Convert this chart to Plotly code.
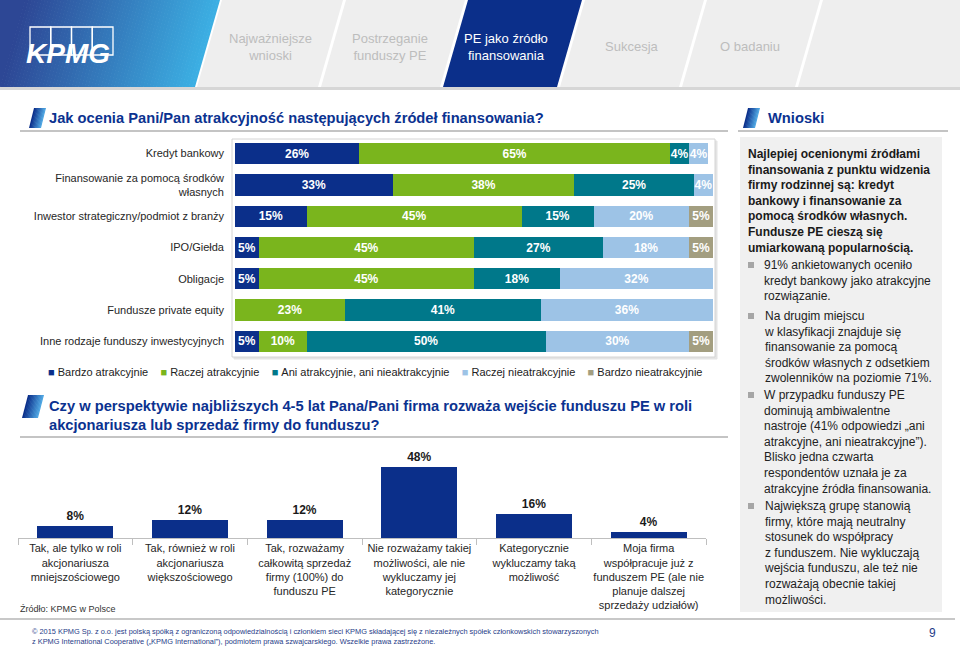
import plotly.graph_objects as go

W, H = 960, 648
FONT = "Liberation Sans, Arial, sans-serif"

# ---------------- data ----------------
sources = [
    "Kredyt bankowy",
    "Finansowanie za pomocą środków<br>własnych",
    "Inwestor strategiczny/podmiot z branży",
    "IPO/Giełda",
    "Obligacje",
    "Fundusze private equity",
    "Inne rodzaje funduszy inwestycyjnych",
]
series_names = [
    "Bardzo atrakcyjnie",
    "Raczej atrakcyjnie",
    "Ani atrakcyjnie, ani nieaktrakcyjnie",
    "Raczej nieatrakcyjnie",
    "Bardzo nieatrakcyjnie",
]
bardzo_atrakcyjnie = [26, 33, 15, 5, 5, None, 5]
raczej_atrakcyjnie = [65, 38, 45, 45, 45, 23, 10]
ani_ani = [4, 25, 15, 27, 18, 41, 50]
raczej_nieatrakcyjnie = [4, 4, 20, 18, 32, 36, 30]
bardzo_nieatrakcyjnie = [None, None, 5, 5, None, None, 5]

options = [
    "Tak, ale tylko w roli<br>akcjonariusza<br>mniejszościowego",
    "Tak, również w roli<br>akcjonariusza<br>większościowego",
    "Tak, rozważamy<br>całkowitą sprzedaż<br>firmy (100%) do<br>funduszu PE",
    "Nie rozważamy takiej<br>możliwości, ale nie<br>wykluczamy jej<br>kategorycznie",
    "Kategorycznie<br>wykluczamy taką<br>możliwość",
    "Moja firma<br>współpracuje już z<br>funduszem PE (ale nie<br>planuje dalszej<br>sprzedaży udziałów)",
]
option_values = [8, 12, 12, 48, 16, 4]

tabs = ["Najważniejsze<br>wnioski", "Postrzeganie<br>funduszy PE", "PE jako źródło<br>finansowania", "Sukcesja", "O badaniu"]

# ---------------- styles ----------------
NAVY = "#0B2F8A"
series_colors = ["#0B2F8A", "#7AB51D", "#00788A", "#9DC3E6", "#A39E80"]
TITLE_BLUE = "#0B3290"


def P(x):
    return min(max(x, 0), W) / W


def Q(y):
    return 1 - min(max(y, 0), H) / H


shapes = []
annotations = []


def poly(points, color, layer="below"):
    path = "M " + " L ".join(f"{P(x):.5f},{Q(y):.5f}" for x, y in points) + " Z"
    shapes.append(dict(type="path", xref="paper", yref="paper", path=path,
                       fillcolor=color, line=dict(width=0), layer=layer))


def rect(x0, y0, x1, y1, fill=None, line=None, lw=1, layer="below"):
    d = dict(type="rect", xref="paper", yref="paper", x0=P(x0), x1=P(x1), y0=Q(y1), y1=Q(y0), layer=layer)
    d["fillcolor"] = fill if fill else "rgba(0,0,0,0)"
    d["line"] = dict(color=line, width=lw) if line else dict(width=0)
    shapes.append(d)


def hline(x0, x1, y, color, lw=1, layer="below"):
    shapes.append(dict(type="line", xref="paper", yref="paper", x0=P(x0), x1=P(x1), y0=Q(y), y1=Q(y),
                       line=dict(color=color, width=lw), layer=layer))


def hexrgb(h):
    h = h.lstrip("#")
    return tuple(int(h[i:i + 2], 16) for i in (0, 2, 4))


def mix(c0, c1, t):
    r0, r1 = hexrgb(c0), hexrgb(c1)
    return "rgb(%d,%d,%d)" % tuple(round(r0[k] + (r1[k] - r0[k]) * t) for k in range(3))


def gradient_para(xa, xb, y0, y1, slant, c0, c1, n=40, layer="below"):
    # parallelogram: top edge xa..xb, bottom edge shifted left by slant
    for i in range(n):
        t = i / (n - 1)
        a = xa + (xb - xa) * i / n
        b = xa + (xb - xa) * (i + 1) / n + (0.6 if i < n - 1 else 0)
        poly([(a, y0), (b, y0), (b - slant, y1), (a - slant, y1)], mix(c0, c1, t), layer)


def text(x, y, s, size=12, color="#222222", xanchor="left", yanchor="middle", align="left", bold=False, family=FONT):
    annotations.append(dict(xref="paper", yref="paper", x=P(x), y=Q(y), text=s, showarrow=False,
                            xanchor=xanchor, yanchor=yanchor, align=align,
                            font=dict(size=size, color=color, family=family,
                                      weight="bold" if bold else "normal")))


# ---------------- header ----------------
tab_tops = [(222, 343), (346, 465), (468, 582), (585, 704), (707, 820)]
for i, (a, b) in enumerate(tab_tops):
    col = NAVY if i == 2 else "#EEEEEE"
    poly([(a, 0), (b, 0), (b - 25, 87), (a - 25, 87)], col)
poly([(823, 0), (960, 0), (960, 87), (798, 87)], "#EEEEEE")
rect(0, 87, 960, 90, fill="#D6D6D6")
# logo gradient block (left part + slanted stripes)
poly([(0, 0), (25.6, 0), (0.6, 87), (0, 87)], "#2D4795")
gradient_para(25, 220, 0, 87, 25, "#2D4795", "#3CAFE3", n=60)
# KPMG logo
for i in range(4):
    rect(30 + i * 20.75, 27, 30 + (i + 1) * 20.75, 55, line="white", lw=1.3, layer="above")
text(68, 53, "<i>KPMG</i>", size=28, color="white", xanchor="center", bold=True)
tab_centers = [270, 390, 506, 632, 750]
for i, (lbl, cx) in enumerate(zip(tabs, tab_centers)):
    text(cx, 47, lbl, size=13, color="white" if i == 2 else "#BDBDBD", xanchor="center", align="center")

# ---------------- section titles ----------------
gradient_para(34, 46, 108, 128, 5, "#0B2F8A", "#4FA6E2", n=10)
text(47, 118, "Jak ocenia Pani/Pan atrakcyjność następujących źródeł finansowania?", size=14.7,
     color=TITLE_BLUE, bold=True)
hline(20, 728, 131, "#C4C4C4", 2)

gradient_para(748, 760, 108, 128, 5, "#0B2F8A", "#4FA6E2", n=10)
text(766, 118, "Wnioski", size=14.7, color=TITLE_BLUE, bold=True)
hline(738, 948, 131, "#C4C4C4", 2)

gradient_para(28, 44, 395, 418, 6, "#0B2F8A", "#4FA6E2", n=12)
text(47, 415, "Czy w perspektywie najbliższych 4-5 lat Pana/Pani firma rozważa wejście funduszu PE w roli<br>"
              "akcjonariusza lub sprzedaż firmy do funduszu?", size=14.7, color=TITLE_BLUE, bold=True)
hline(20, 728, 437, "#C4C4C4", 2)

# chart frame (top chart)
rect(234, 141, 717, 359, fill="#E4E4E4", line="#E4E4E4", lw=1)
rect(232, 139, 715, 357, fill="white", line="#D4D4D4", lw=1)

# legend (built from series names / colours)
legend_html = "\u00a0\u00a0\u00a0\u00a0".join(
    f"<span style='color:{c}'>■</span>\u00a0{n}" for n, c in zip(series_names, series_colors))
text(46, 372, legend_html, size=11, color="#222222")

# ---------------- right panel ----------------
rect(740, 137, 942, 612, fill="#F0F0F0")
text(746, 145, "Najlepiej ocenionymi źródłami<br>finansowania z punktu widzenia<br>firmy rodzinnej są: kredyt<br>"
               "bankowy i finansowanie za<br>pomocą środków własnych.<br>Fundusze PE cieszą się<br>"
               "umiarkowaną popularnością.", size=12, color="#1A1A1A", yanchor="top", bold=True)
bullets = [
    (265, "91% ankietowanych oceniło<br>kredyt bankowy jako atrakcyjne<br>rozwiązanie."),
    (316, "Na drugim miejscu<br>w klasyfikacji znajduje się<br>finansowanie za pomocą<br>"
          "środków własnych z odsetkiem<br>zwolenników na poziomie 71%."),
    (395, "W przypadku funduszy PE<br>dominują ambiwalentne<br>nastroje (41% odpowiedzi „ani<br>"
          "atrakcyjne, ani nieatrakcyjne”).<br>Blisko jedna czwarta<br>respondentów uznała je za<br>"
          "atrakcyjne źródła finansowania."),
    (506, "Największą grupę stanowią<br>firmy, które mają neutralny<br>stosunek do współpracy<br>"
          "z funduszem. Nie wykluczają<br>wejścia funduszu, ale też nie<br>rozważają obecnie takiej<br>możliwości."),
]
for y0, s in bullets:
    rect(748, y0 - 3, 754, y0 + 3, fill="#A6A6A6")
    text(762, y0 - 9, s, size=12, color="#222222", yanchor="top")

# ---------------- footer ----------------
text(18, 609, "Źródło: KPMG w Polsce", size=9, color="#333333")
hline(0, 955, 619, "#C8C8C8", 2)
text(30, 636, "© 2015 KPMG Sp. z o.o. jest polską spółką z ograniczoną odpowiedzialnością i członkiem sieci KPMG "
              "składającej się z niezależnych spółek członkowskich stowarzyszonych<br>z KPMG International Cooperative "
              "(„KPMG International”), podmiotem prawa szwajcarskiego. Wszelkie prawa zastrzeżone.",
     size=7.4, color="#1F3C88")
text(932, 633, "9", size=12, color="#1F3C88", xanchor="center")

# ---------------- traces ----------------
fig = go.Figure()
for name, vals, col in zip(series_names,
                           [bardzo_atrakcyjnie, raczej_atrakcyjnie, ani_ani, raczej_nieatrakcyjnie, bardzo_nieatrakcyjnie],
                           series_colors):
    fig.add_trace(go.Bar(
        y=sources, x=vals, orientation="h", name=name, marker=dict(color=col, line=dict(width=0)),
        width=0.68, texttemplate="%{x}%", textposition="inside", insidetextanchor="middle", textangle=0,
        textfont=dict(color="white", size=12, family=FONT, weight="bold"), constraintext="none",
        showlegend=False, hoverinfo="skip", xaxis="x", yaxis="y"))

fig.add_trace(go.Bar(
    x=options, y=option_values, marker=dict(color=NAVY, line=dict(width=0)), width=0.66,
    texttemplate="%{y}%", textposition="outside", cliponaxis=False, textangle=0,
    textfont=dict(color="#1A1A1A", size=12, family=FONT, weight="bold"),
    showlegend=False, hoverinfo="skip", xaxis="x2", yaxis="y2"))

fig.update_layout(
    width=W, height=H, margin=dict(l=0, r=0, t=0, b=0),
    paper_bgcolor="white", plot_bgcolor="rgba(0,0,0,0)",
    barmode="stack", showlegend=False,
    font=dict(family=FONT, color="#222222"),
    xaxis=dict(domain=[P(235), P(713)], range=[0, 100], visible=False, fixedrange=True, anchor="y"),
    yaxis=dict(domain=[Q(357), Q(138)], autorange="reversed", type="category", anchor="x",
               tickfont=dict(size=11, color="#262626"), ticks="", ticklabelstandoff=10,
               showline=False, showgrid=False, zeroline=False),
    xaxis2=dict(domain=[P(18), P(706)], anchor="y2", type="category", tickangle=0,
                tickfont=dict(size=11, color="#262626"), showline=True, linecolor="#BFBFBF", linewidth=1,
                ticks="outside", tickson="boundaries", ticklen=6, tickcolor="#BFBFBF", showgrid=False),
    yaxis2=dict(domain=[Q(538), Q(440)], range=[0, 66.2], visible=False, anchor="x2"),
    shapes=shapes, annotations=annotations,
)

fig.write_html("out.html")
